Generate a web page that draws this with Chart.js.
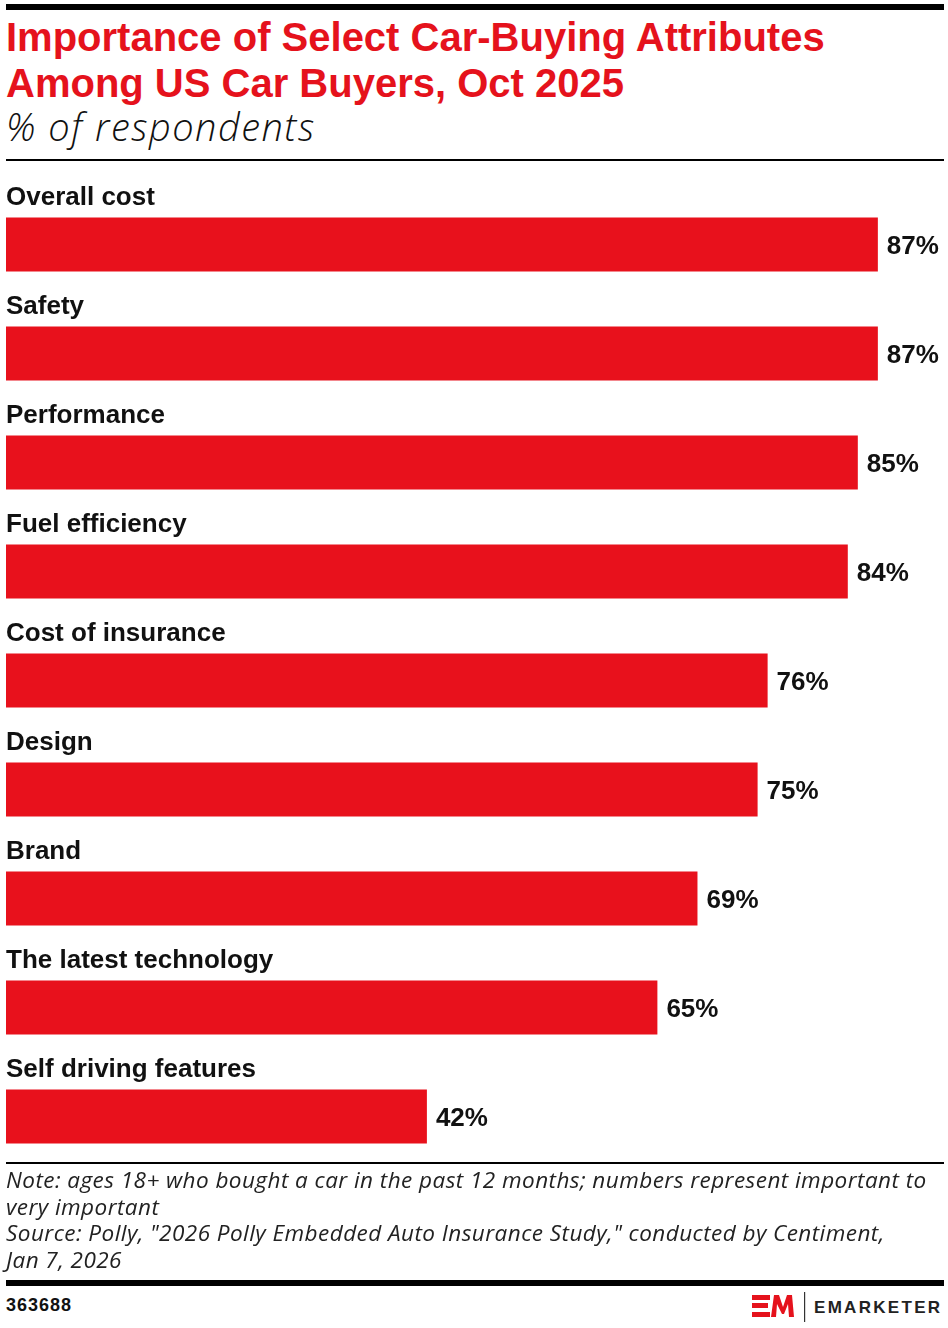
<!DOCTYPE html>
<html>
<head>
<meta charset="utf-8">
<script src="https://cdn.jsdelivr.net/npm/chart.js@4/dist/chart.umd.min.js"></script>
<style>
    body { margin: 0; background: #fff; width: 948px; height: 1328px; position: relative; overflow: hidden; font-family: "Liberation Sans", Arial, sans-serif; }
    .abs { position: absolute; }
    .rule { position: absolute; left: 6px; width: 938px; background: #000; }
    .title { left: 6px; color: #e5121c; font-weight: bold; font-size: 40px; line-height: 46px; white-space: nowrap; letter-spacing: 0px; }
    .subtitle { left: 6px; font-family: "Open Sans", sans-serif; font-style: italic; font-weight: 300; font-size: 38px; line-height: 44px; letter-spacing: 1.5px; color: #111; white-space: nowrap; }
    .notes { left: 6px; font-family: "Open Sans", sans-serif; font-style: italic; font-size: 22.5px; line-height: 26.5px; letter-spacing: 0.45px; color: #222; white-space: nowrap; }
    .chart-id { left: 6px; font-weight: bold; font-size: 18px; letter-spacing: 1px; color: #111; }
    .brand { left: 814px; font-weight: bold; font-size: 17px; letter-spacing: 2.3px; color: #222; }
</style>
</head>
<body>
<div class="rule" style="top:4px;height:6px;"></div>
<div class="abs title" style="top:14px;">Importance of Select Car-Buying Attributes<br>Among US Car Buyers, Oct 2025</div>
<div class="abs subtitle" style="top:104px;">% of respondents</div>
<div class="rule" style="top:159px;height:2px;"></div>

<canvas id="chart" class="abs" width="948" height="1010" style="top:165px;left:0;"></canvas>

<div class="rule" style="top:1162px;height:2px;"></div>
<div class="abs notes" style="top:1167px;">Note: ages 18+ who bought a car in the past 12 months; numbers represent important to<br>very important<br>Source: Polly, "2026 Polly Embedded Auto Insurance Study," conducted by Centiment,<br>Jan 7, 2026</div>
<div class="rule" style="top:1280px;height:6px;"></div>
<div class="abs chart-id" style="top:1295px;">363688</div>
<svg class="abs" style="left:750px;top:1290px;" width="60" height="34">
    <rect x="2" y="5" width="18" height="5" fill="#e5121c"/>
    <rect x="2" y="13" width="16" height="5" fill="#e5121c"/>
    <rect x="2" y="22" width="18" height="5" fill="#e5121c"/>
    <polygon points="21,27 24,5 29,5 33,17 37,5 42,5 44,27 39,27 38,14 34,24 32,24 27,14 26,27" fill="#e5121c"/>
    <rect x="54" y="2" width="1.2" height="30" fill="#333"/>
</svg>
<div class="abs brand" style="top:1298px;">EMARKETER</div>

<script>
// Data
const categories = [
    'Overall cost',
    'Safety',
    'Performance',
    'Fuel efficiency',
    'Cost of insurance',
    'Design',
    'Brand',
    'The latest technology',
    'Self driving features'
];
const values = [87, 87, 85, 84, 76, 75, 69, 65, 42];

const barRed = '#e8111c';

// Category name above each bar, value to the right of it
const barLabels = {
    id: 'barLabels',
    afterDatasetsDraw(chart) {
        const ctx = chart.ctx;
        const meta = chart.getDatasetMeta(0);
        const left = chart.chartArea.left;
        ctx.save();
        ctx.fillStyle = '#111';
        ctx.textBaseline = 'alphabetic';
        ctx.textAlign = 'left';
        ctx.font = 'bold 26px "Liberation Sans", Arial, sans-serif';
        meta.data.forEach((bar, i) => {
            const top = bar.y - bar.height / 2;
            ctx.fillText(categories[i], left, top - 13);
            ctx.fillText(values[i] + '%', bar.x + 9, bar.y + 9);
        });
        ctx.restore();
    }
};

new Chart(document.getElementById('chart'), {
    type: 'bar',
    data: {
        labels: categories,
        datasets: [{
            data: values,
            backgroundColor: barRed,
            borderWidth: 0,
            barPercentage: 0.495,
            categoryPercentage: 1
        }]
    },
    options: {
        indexAxis: 'y',
        responsive: false,
        animation: false,
        layout: { padding: { left: 6, right: 4, top: 25, bottom: 4 } },
        scales: {
            x: { min: 0, max: 93.6, display: false },
            y: { display: false }
        },
        plugins: {
            legend: { display: false },
            tooltip: { enabled: false }
        }
    },
    plugins: [barLabels]
});
</script>
</body>
</html>
